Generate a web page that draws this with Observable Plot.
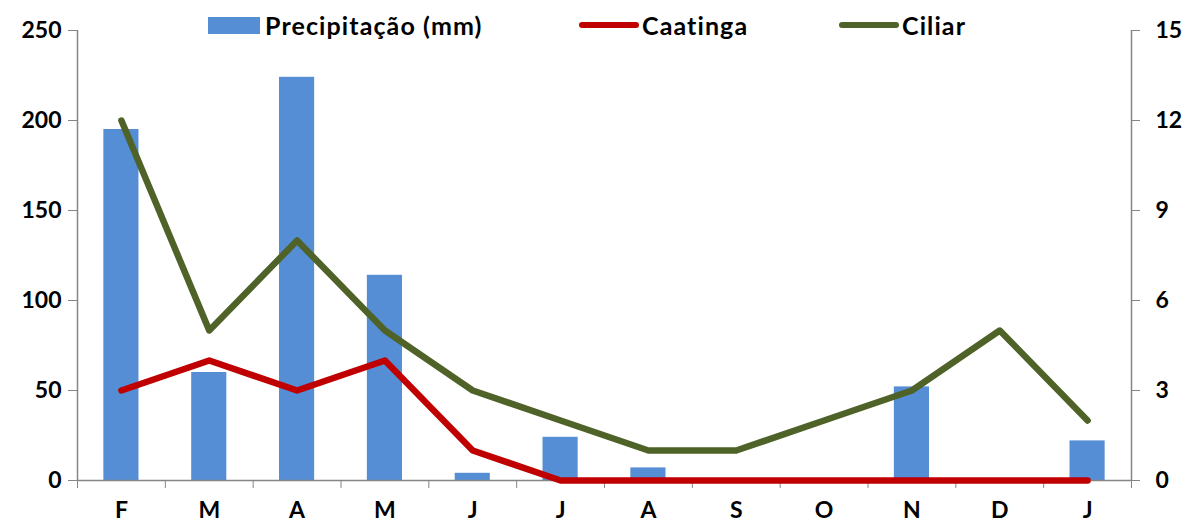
<!DOCTYPE html>
<html>
<head>
<meta charset="utf-8">
<script src="https://cdn.jsdelivr.net/npm/d3@7"></script>
<script src="https://cdn.jsdelivr.net/npm/@observablehq/plot@0.6"></script>
<style>
  html, body { margin: 0; padding: 0; background: #fff; }
  #wrap { position: relative; width: 1194px; height: 526px; font-family: Lato, "Open Sans", sans-serif; font-weight: bold; }
  .leg { position: absolute; top: 9px; height: 32px; display: flex; align-items: center; font-size: 25px; letter-spacing: 1.1px; color: #000; white-space: nowrap; }
  .sw-rect { width: 52px; height: 17px; margin-right: 5px; }
  .sw-line { width: 60px; height: 6px; border-radius: 3px; margin-right: 3px; }
</style>
</head>
<body>
<div id="wrap"></div>
<script>
const months = ["F", "M", "A", "M", "J", "J", "A", "S", "O", "N", "D", "J"];
const precipitation = [195, 60, 224, 114, 4, 24, 7, 0, 0, 52, 0, 22];
const caatinga = [3, 4, 3, 4, 1, 0, 0, 0, 0, 0, 0, 0];
const ciliar = [12, 5, 8, 5, 3, 2, 1, 1, 2, 3, 5, 2];
const leftTicks = [0, 50, 100, 150, 200, 250];
const rightMax = 15, leftMax = 250;
const colors = { precip: "#558ED5", caatinga: "#C00000", ciliar: "#4F6228" };
const axisGray = "#868686";

const rows = months.map((m, i) => ({
  i, m,
  precip: precipitation[i],
  caatinga: caatinga[i] * leftMax / rightMax,
  ciliar: ciliar[i] * leftMax / rightMax
}));

const chart = Plot.plot({
  width: 1194,
  height: 526,
  marginLeft: 77,
  marginRight: 63,
  marginTop: 30,
  marginBottom: 46,
  style: { fontFamily: "Lato, 'Open Sans', sans-serif", fontWeight: "bold", fontSize: "23px", color: "#000", background: "#fff", overflow: "visible" },
  x: { type: "linear", domain: [0, months.length] },
  y: { domain: [0, leftMax] },
  marks: [
    Plot.rectY(rows, { x1: d => d.i + 0.3, x2: d => d.i + 0.7, y: "precip", fill: colors.precip }),
    Plot.ruleX([0, months.length], { stroke: axisGray, strokeWidth: 1.5 }),
    Plot.ruleY([0], { stroke: axisGray, strokeWidth: 1.5 }),
    Plot.axisY({ anchor: "left", ticks: leftTicks, tickSize: 9, tickPadding: 7, stroke: axisGray, fill: "#000", label: null }),
    Plot.axisY({ anchor: "right", ticks: leftTicks, tickFormat: d => d * rightMax / leftMax, tickSize: 8, tickPadding: 16, stroke: axisGray, fill: "#000", label: null }),
    Plot.axisX({ ticks: d3.range(months.length + 1), tickFormat: () => "", tickSize: 8, stroke: axisGray, label: null }),
    Plot.axisX({ ticks: d3.range(months.length).map(i => i + 0.5), tickFormat: d => months[Math.floor(d)], tickSize: 0, tickPadding: 21, fill: "#000", label: null }),
    Plot.lineY(rows, { x: d => d.i + 0.5, y: "caatinga", stroke: colors.caatinga, strokeWidth: 6.5, strokeLinecap: "round", strokeLinejoin: "round" }),
    Plot.lineY(rows, { x: d => d.i + 0.5, y: "ciliar", stroke: colors.ciliar, strokeWidth: 6.5, strokeLinecap: "round", strokeLinejoin: "round" })
  ]
});

const wrap = document.getElementById("wrap");
wrap.appendChild(chart);

const legendItems = [
  { label: "Precipitação (mm)", color: colors.precip, kind: "rect", left: 208 },
  { label: "Caatinga", color: colors.caatinga, kind: "line", left: 579 },
  { label: "Ciliar", color: colors.ciliar, kind: "line", left: 839 }
];
for (const it of legendItems) {
  const d = document.createElement("div");
  d.className = "leg";
  d.style.left = it.left + "px";
  const sw = document.createElement("span");
  sw.className = it.kind === "rect" ? "sw-rect" : "sw-line";
  sw.style.background = it.color;
  const t = document.createElement("span");
  t.textContent = it.label;
  d.appendChild(sw);
  d.appendChild(t);
  wrap.appendChild(d);
}
</script>
</body>
</html>
